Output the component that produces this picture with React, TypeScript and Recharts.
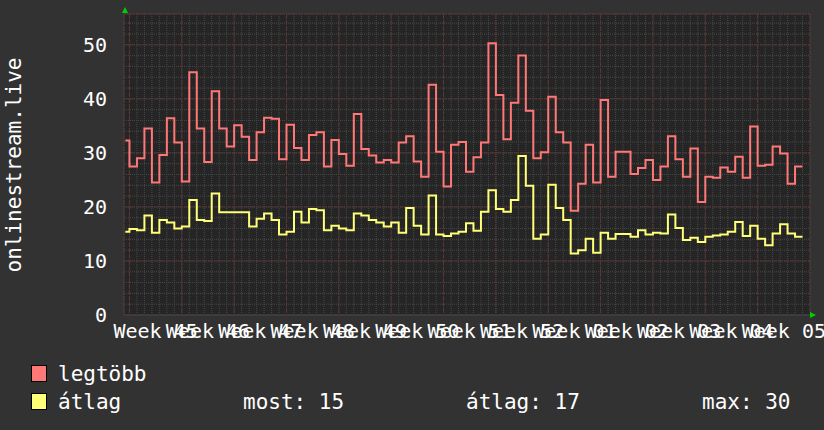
import { LineChart, Line, XAxis, YAxis, CartesianGrid } from "recharts";

// daily values, first entry is the partial day before week 45 starts
const maxValues = [
  32.3, 27.5, 29.0, 34.5, 24.5, 29.6, 36.4, 31.9, 24.7, 44.9, 34.5, 28.3, 41.4, 34.5, 31.2,
  35.1, 33.0, 28.7, 33.8, 36.5, 36.3, 28.8, 35.2, 30.9, 28.7, 33.3, 33.8, 27.5, 32.4, 29.8,
  27.6, 37.2, 30.7, 29.5, 28.2, 28.7, 28.2, 31.9, 33.1, 28.4, 25.6, 42.6, 30.2, 23.8, 31.5,
  32.0, 26.5, 29.2, 31.9, 50.3, 40.7, 32.5, 39.3, 48.0, 37.8, 29.0, 30.1, 40.4, 33.8, 31.9,
  19.3, 24.3, 31.5, 24.5, 39.8, 25.6, 30.2, 30.2, 26.1, 27.2, 28.7, 25.0, 27.5, 33.1, 28.8,
  25.6, 30.8, 20.9, 25.6, 25.4, 27.3, 26.5, 29.3, 25.4, 34.9, 27.6, 27.8, 31.2, 29.9, 24.3,
  27.5,
];

const avgValues = [
  15.4, 15.9, 15.7, 18.4, 15.2, 17.6, 17.1, 16.0, 16.4, 21.3, 17.6, 17.4, 22.5, 19.0, 19.0,
  19.0, 19.0, 16.4, 17.8, 18.8, 17.6, 14.9, 15.4, 19.1, 17.1, 19.6, 19.4, 15.7, 16.5, 16.0,
  15.7, 18.8, 18.4, 17.6, 17.1, 16.4, 17.1, 15.2, 19.8, 16.5, 14.9, 22.1, 14.9, 14.6, 15.1,
  15.4, 17.0, 15.6, 19.1, 23.1, 19.6, 19.1, 21.3, 29.4, 23.9, 14.1, 14.9, 24.1, 19.8, 17.6,
  11.4, 12.0, 14.1, 11.5, 15.2, 14.1, 15.0, 15.0, 14.5, 15.7, 14.9, 15.2, 15.1, 18.6, 16.1,
  13.9, 14.3, 13.5, 14.5, 14.7, 14.9, 15.4, 17.2, 14.6, 16.5, 14.1, 12.9, 15.1, 16.8, 15.1,
  14.5,
];

const weekLabels = [
  "Week 45", "Week 46", "Week 47", "Week 48", "Week 49", "Week 50", "Week 51",
  "Week 52", "Week 01", "Week 02", "Week 03", "Week 04", "Week 05",
];

const yTicks = [0, 10, 20, 30, 40, 50];

const stats = [
  { label: "most", value: 15 },
  { label: "átlag", value: 17 },
  { label: "max", value: 30 },
];

const FIRST_DAY = -0.55;
const X_DOMAIN: [number, number] = [-0.73, 91];
const Y_DOMAIN: [number, number] = [0, 55.7];

const data = maxValues.map((m, i) => ({
  day: i === 0 ? FIRST_DAY : i - 1,
  max: m,
  avg: avgValues[i],
}));
const last = data[data.length - 1];
data.push({ day: last.day + 1, max: last.max, avg: last.avg });

const minorX = Array.from({ length: weekLabels.length * 7 + 1 }, (_, i) => i);
const majorX = Array.from({ length: weekLabels.length + 1 }, (_, i) => i * 7);
const minorY = Array.from({ length: 28 }, (_, i) => i * 2);
const weekCenters = weekLabels.map((_, i) => i * 7 + 3.5);

const FONT = "'DejaVu Sans Mono', monospace";
const RED = "#ff7878";
const YELLOW = "#ffff78";

export default function App() {
  return (
    <div style={{ position: "absolute", left: 0, top: 0, width: 824, height: 430, background: "#323232" }}>
      <LineChart width={824} height={430} data={data} margin={{ top: 14, right: 14, bottom: 85, left: 0 }}>
        <XAxis xAxisId="minor" type="number" dataKey="day" domain={X_DOMAIN} allowDataOverflow ticks={minorX} interval={0} hide />
        <XAxis xAxisId="major" type="number" dataKey="day" domain={X_DOMAIN} allowDataOverflow ticks={majorX} interval={0} hide />
        <YAxis yAxisId="minor" type="number" domain={Y_DOMAIN} allowDataOverflow ticks={minorY} interval={0} hide />
        <YAxis yAxisId="major" type="number" domain={Y_DOMAIN} allowDataOverflow ticks={yTicks} interval={0} hide />
        <CartesianGrid xAxisId="minor" yAxisId="minor" stroke="#484848" strokeDasharray="1 1" fill="#252525" />
        <CartesianGrid xAxisId="major" yAxisId="major" stroke="#5e3434" strokeDasharray="2 1" />
        <XAxis
          type="number"
          dataKey="day"
          domain={X_DOMAIN}
          allowDataOverflow
          ticks={weekCenters}
          interval={0}
          tickFormatter={(v: number) => weekLabels[Math.round((v - 3.5) / 7)]}
          height={30}
          tickSize={0}
          tickMargin={9}
          axisLine={{ stroke: "#3c3c3c", strokeWidth: 2 }}
          tickLine={false}
          tick={{ fill: "#ffffff", fontSize: 20, fontFamily: FONT }}
        />
        <YAxis
          type="number"
          domain={Y_DOMAIN}
          allowDataOverflow
          ticks={yTicks}
          interval={0}
          width={124}
          tickSize={0}
          tickMargin={17}
          axisLine={false}
          tickLine={false}
          tick={{ fill: "#ffffff", fontSize: 20, fontFamily: FONT }}
        />
        <Line type="stepAfter" dataKey="max" stroke={RED} strokeWidth={2} dot={false} isAnimationActive={false} />
        <Line type="stepAfter" dataKey="avg" stroke={YELLOW} strokeWidth={2} dot={false} isAnimationActive={false} />
      </LineChart>
      <svg width={824} height={430} style={{ position: "absolute", left: 0, top: 0, pointerEvents: "none" }}>
        <polygon points="122,13 128,13 125,7" fill="#00d000" />
        <polygon points="810,312 810,318 816,315" fill="#00d000" />
        <text x={21} y={165} transform="rotate(-90 21 165)" textAnchor="middle" fill="#ffffff" fontSize={21} fontFamily={FONT}>
          onlinestream.live
        </text>
        <rect x={31.5} y={365.5} width={15} height={16} fill={RED} stroke="#000" />
        <text x={58} y={381} fill="#ffffff" fontSize={21} fontFamily={FONT}>legtöbb</text>
        <rect x={31.5} y={393.5} width={15} height={16} fill={YELLOW} stroke="#000" />
        <text x={58} y={409} fill="#ffffff" fontSize={21} fontFamily={FONT}>átlag</text>
        {stats.map((s, i) => (
          <text key={s.label} x={[243, 466, 702][i]} y={409} fill="#ffffff" fontSize={21} fontFamily={FONT}>
            {`${s.label}: ${s.value}`}
          </text>
        ))}
      </svg>
    </div>
  );
}
